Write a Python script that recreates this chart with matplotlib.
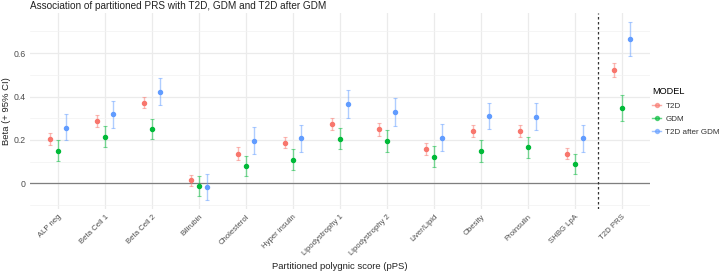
import numpy as np
import matplotlib
matplotlib.use("Agg")
import matplotlib.pyplot as plt
from matplotlib.lines import Line2D

# =========================
# DATA
# =========================
scores = ["ALP neg", "Beta Cell 1", "Beta Cell 2", "Bilirubin", "Cholesterol",
          "Hyper insulin", "Lipodystrophy 1", "Lipodystrophy 2", "Liver/Lipid",
          "Obesity", "Proinsulin", "SHBG LpA", "T2D PRS"]

models = ["T2D", "GDM", "T2D after GDM"]

t2d_beta = [0.205, 0.289, 0.372, 0.014, 0.137, 0.188, 0.272, 0.249, 0.158, 0.242, 0.242, 0.135, 0.523]
t2d_lo   = [0.175, 0.262, 0.346, -0.012, 0.109, 0.162, 0.245, 0.220, 0.129, 0.212, 0.215, 0.111, 0.489]
t2d_hi   = [0.231, 0.314, 0.398, 0.038, 0.166, 0.212, 0.300, 0.277, 0.185, 0.268, 0.268, 0.162, 0.554]

gdm_beta = [0.149, 0.215, 0.251, -0.012, 0.080, 0.108, 0.205, 0.194, 0.122, 0.151, 0.166, 0.089, 0.348]
gdm_lo   = [0.102, 0.166, 0.203, -0.060, 0.032, 0.060, 0.157, 0.143, 0.074, 0.100, 0.117, 0.042, 0.288]
gdm_hi   = [0.198, 0.263, 0.298, 0.034, 0.126, 0.157, 0.254, 0.245, 0.171, 0.200, 0.212, 0.137, 0.406]

after_beta = [0.257, 0.320, 0.423, -0.017, 0.195, 0.208, 0.366, 0.329, 0.211, 0.311, 0.308, 0.208, 0.665]
after_lo   = [0.198, 0.257, 0.360, -0.078, 0.134, 0.146, 0.303, 0.265, 0.148, 0.251, 0.248, 0.146, 0.586]
after_hi   = [0.318, 0.378, 0.485, 0.042, 0.258, 0.268, 0.429, 0.392, 0.272, 0.372, 0.369, 0.268, 0.743]

colors = ["#F8766D", "#00BA38", "#619CFF"]

series = [
    (t2d_beta, t2d_lo, t2d_hi),
    (gdm_beta, gdm_lo, gdm_hi),
    (after_beta, after_lo, after_hi),
]

plt.rcParams["font.family"] = ["Liberation Sans", "DejaVu Sans"]

fig = plt.figure(figsize=(7.21, 2.72), dpi=100)
ax = fig.add_axes([30 / 721, 63 / 272, 620 / 721, 196 / 272])

x = np.arange(len(scores))
offsets = [-0.17, 0.0, 0.17]

for (beta, lo, hi), col, off, name in zip(series, colors, offsets, models):
    beta = np.array(beta)
    err = np.vstack([beta - np.array(lo), np.array(hi) - beta])
    ax.errorbar(x + off, beta, yerr=err, fmt="none", ecolor=col, alpha=0.5,
                elinewidth=1.0, capsize=1.6, capthick=0.8, zorder=3)
    ax.plot(x + off, beta, "o", color=col, markersize=2.9, zorder=4, label=name)

# grid like theme_minimal
ax.set_ylim(-0.118, 0.785)
ax.set_xlim(-0.6, len(scores) - 0.4)
ax.set_yticks([0, 0.2, 0.4, 0.6])
ax.set_yticklabels(["0", "0.2", "0.4", "0.6"])
ax.set_yticks([-0.1, 0.1, 0.3, 0.5, 0.7], minor=True)
ax.grid(which="major", color="#EBEBEB", linewidth=0.9, zorder=0)
ax.grid(which="minor", axis="y", color="#F2F2F2", linewidth=0.5, zorder=0)
ax.set_axisbelow(True)
for s in ax.spines.values():
    s.set_visible(False)

ax.axhline(0, color="#7F7F7F", linewidth=0.9, zorder=2)
ax.axvline(11.5, color="#333333", linewidth=0.9, linestyle=(0, (2, 2)), zorder=2)

ax.set_xticks(x)
ax.set_xticklabels(scores, rotation=45, ha="right", rotation_mode="anchor",
                   fontsize=5.6, color="#4D4D4D")
ax.tick_params(axis="both", which="both", length=0, pad=3)
ax.tick_params(axis="y", labelsize=6.3, labelcolor="#4D4D4D")

ax.set_ylabel("Beta (+ 95% CI)", fontsize=6.8, color="#222222")
ax.yaxis.set_label_coords(-0.03, 0.5)
ax.set_xlabel("Partitioned polygnic score (pPS)", fontsize=6.8, color="#222222")
ax.xaxis.set_label_coords(0.5, -0.27)

fig.text(30 / 721, 1 - 6 / 272, "Association of partitioned PRS with T2D, GDM and T2D after GDM",
         fontsize=7.2, color="#222222", ha="left", va="center")

handles = [Line2D([0], [0], color=c, marker="o", markersize=2.9, linewidth=1.0)
           for c in colors]
leg = fig.legend(handles, models, title="MODEL", loc="upper left",
                 bbox_to_anchor=(646 / 721, 1 - 81 / 272), frameon=False,
                 fontsize=5.8, title_fontsize=6.6, handlelength=1.1,
                 handletextpad=0.5, labelspacing=0.7, alignment="left",
                 borderpad=0.3)
for t in leg.get_texts():
    t.set_color("#333333")
for h in leg.legend_handles:
    h.set_alpha(0.6)

fig.savefig("out.png", dpi=100)
